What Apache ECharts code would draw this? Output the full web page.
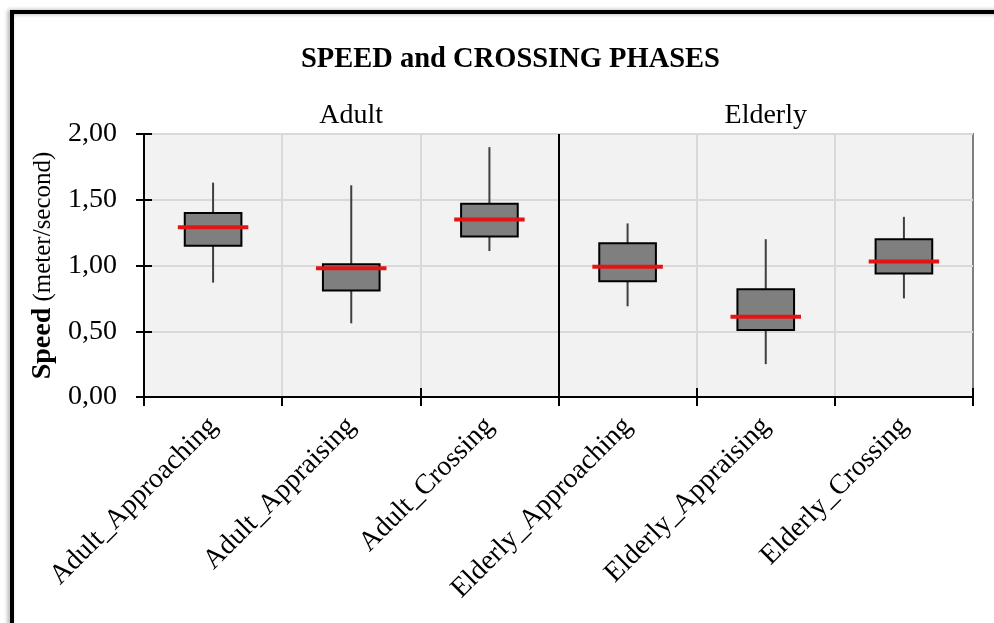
<!DOCTYPE html>
<html>
<head>
<meta charset="utf-8">
<script src="https://cdn.jsdelivr.net/npm/echarts@6/dist/echarts.min.js"></script>
<style>
html,body{margin:0;padding:0;background:#fff;}
#c{width:994px;height:623px;}
</style>
</head>
<body>
<div id="c"></div>
<script>
const categories = ['Adult_Approaching','Adult_Appraising','Adult_Crossing','Elderly_Approaching','Elderly_Appraising','Elderly_Crossing'];
const groups = ['Adult','Elderly'];
const mins    = [0.87, 0.56, 1.11, 0.69, 0.25, 0.75];
const q1s     = [1.15, 0.81, 1.22, 0.88, 0.51, 0.94];
const medians = [1.29, 0.98, 1.35, 0.99, 0.61, 1.03];
const q3s     = [1.40, 1.01, 1.47, 1.17, 0.82, 1.20];
const maxs    = [1.63, 1.61, 1.90, 1.32, 1.20, 1.37];
const yTicks  = [0, 0.5, 1, 1.5, 2];

const FONT = "'Liberation Serif', 'Times New Roman', serif";
const data = categories.map((c, i) => [i, mins[i], q1s[i], medians[i], q3s[i], maxs[i]]);

const chart = echarts.init(document.getElementById('c'));
const fmt = v => v.toFixed(2).replace('.', ',');

chart.setOption({
  backgroundColor: '#ffffff',
  animation: false,
  title: {
    text: 'SPEED and CROSSING PHASES',
    left: 296,
    top: 40,
    textStyle: { fontFamily: FONT, fontSize: 28.5, fontWeight: 'bold', color: '#000' }
  },
  grid: {
    left: 144, right: 21, top: 134, bottom: 226,
    show: true, backgroundColor: '#f2f2f2', borderColor: '#7f7f7f', borderWidth: 2
  },
  xAxis: [
    {
      type: 'category', data: categories, position: 'bottom',
      axisLine: { show: true, lineStyle: { color: '#000', width: 2 } },
      axisTick: { show: true, length: 9, lineStyle: { color: '#000', width: 2 } },
      axisLabel: { rotate: 45, margin: 25, fontFamily: FONT, fontSize: 28, color: '#000', interval: 0 },
      splitLine: { show: true, showMinLine: false, showMaxLine: false, lineStyle: { color: '#d9d9d9', width: 2 } }
    },
    {
      type: 'category', data: categories, position: 'bottom',
      axisLine: { show: false },
      axisTick: { show: true, inside: true, length: 9, lineStyle: { color: '#000', width: 2 } },
      axisLabel: { show: false },
      splitLine: { show: false }
    },
    {
      type: 'category', data: groups, position: 'top',
      axisLine: { show: false },
      axisTick: { show: false },
      axisLabel: { margin: 4, fontFamily: FONT, fontSize: 28, color: '#000' },
      splitLine: { show: true, showMinLine: false, showMaxLine: false, lineStyle: { color: '#000', width: 2 } }
    }
  ],
  yAxis: [
    {
      type: 'value', min: yTicks[0], max: yTicks[yTicks.length - 1], interval: 0.5,
      axisLine: { show: true, lineStyle: { color: '#000', width: 2 } },
      axisTick: { show: true, length: 8, lineStyle: { color: '#000', width: 2 } },
      axisLabel: { margin: 27, fontFamily: FONT, fontSize: 28, color: '#000', formatter: fmt },
      splitLine: { show: true, lineStyle: { color: '#d9d9d9', width: 2 } },
      name: '{b|Speed}{r| (meter/second)}',
      nameLocation: 'middle',
      nameGap: 86,
      nameRotate: 90,
      nameTextStyle: {
        fontFamily: FONT, color: '#000',
        rich: {
          b: { fontFamily: FONT, fontSize: 28, fontWeight: 'bold', color: '#000' },
          r: { fontFamily: FONT, fontSize: 25, color: '#000' }
        }
      }
    },
    {
      type: 'value', min: yTicks[0], max: yTicks[yTicks.length - 1], interval: 0.5, position: 'left',
      axisLine: { show: false },
      axisTick: { show: true, inside: true, length: 8, lineStyle: { color: '#000', width: 2 } },
      axisLabel: { show: false },
      splitLine: { show: false }
    }
  ],
  series: [{
    type: 'custom',
    xAxisIndex: 0,
    yAxisIndex: 0,
    data: data,
    z: 10,
    renderItem: function (params, api) {
      const x = api.value(0);
      const lo = api.coord([x, api.value(1)]);
      const q1 = api.coord([x, api.value(2)]);
      const md = api.coord([x, api.value(3)]);
      const q3 = api.coord([x, api.value(4)]);
      const hi = api.coord([x, api.value(5)]);
      const bw = api.size([1, 0])[0];
      const boxW = bw * 0.41;
      const medW = bw * 0.51;
      const cx = lo[0];
      return {
        type: 'group',
        children: [
          { type: 'line', shape: { x1: cx, y1: lo[1], x2: cx, y2: hi[1] },
            style: { stroke: '#3f3f3f', lineWidth: 2 } },
          { type: 'rect', shape: { x: cx - boxW / 2, y: q3[1], width: boxW, height: q1[1] - q3[1] },
            style: { fill: '#7f7f7f', stroke: '#000', lineWidth: 2 } },
          { type: 'line', shape: { x1: cx - medW / 2, y1: md[1], x2: cx + medW / 2, y2: md[1] },
            style: { stroke: '#e41414', lineWidth: 4 } }
        ]
      };
    }
  }],
  graphic: [{
    type: 'rect', z: 100, silent: true,
    shape: { x: 12, y: 12, width: 1000, height: 640 },
    style: { fill: 'none', stroke: '#000', lineWidth: 4, shadowColor: 'rgba(0,0,0,0.35)', shadowBlur: 4, shadowOffsetX: -2 }
  }]
});
</script>
</body>
</html>
